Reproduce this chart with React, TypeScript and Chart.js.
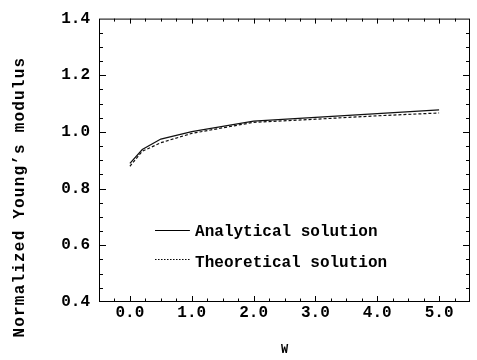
import React, { useEffect, useRef } from 'react';
import { Chart, registerables } from 'chart.js';

Chart.register(...registerables);

// ---- data ----
const W_ANALYTICAL = [0, 0.2, 0.5, 1, 2, 5];
const ANALYTICAL = [0.889, 0.938, 0.975, 1.001, 1.038, 1.078];
const W_THEORETICAL = [0, 0.2, 0.5, 1, 2, 3, 4, 5];
const THEORETICAL = [0.879, 0.932, 0.962, 0.995, 1.034, 1.045, 1.057, 1.067];

const X_TICKS = [0, 1, 2, 3, 4, 5];
const Y_TICKS = [0.4, 0.6, 0.8, 1.0, 1.2, 1.4];
const X_MINOR_STEP = 0.25;
const Y_MINOR_STEP = 0.05;
const X_RANGE = [-0.5, 5.5];
const Y_RANGE = [0.4, 1.4];

const SERIES_LABELS = ['Analytical solution', 'Theoretical solution'];
const X_TITLE = 'W';
const Y_TITLE = 'Normalized Young’s modulus';

const FONT = "'Liberation Mono', 'DejaVu Sans Mono', monospace";

const decorPlugin = {
  id: 'decor',
  afterDraw(chart: any) {
    const ctx = chart.ctx as CanvasRenderingContext2D;
    const { left, right, top, bottom } = chart.chartArea;
    const xs = chart.scales.x;
    const ys = chart.scales.y;
    ctx.save();
    ctx.strokeStyle = '#000';
    ctx.lineWidth = 1;
    // frame
    ctx.strokeRect(left + 0.5, top + 0.5, right - left - 1, bottom - top - 1);
    // x ticks (bottom and top, inward)
    const isMajor = (v: number, arr: number[]) => arr.some((t) => Math.abs(t - v) < 1e-6);
    ctx.beginPath();
    for (let v = X_RANGE[0] + X_MINOR_STEP; v < X_RANGE[1] - 1e-6; v += X_MINOR_STEP) {
      const px = Math.round(xs.getPixelForValue(v)) + 0.5;
      const maj = isMajor(v, X_TICKS);
      ctx.moveTo(px, bottom);
      ctx.lineTo(px, bottom - (maj ? 6 : 3.5));
      ctx.moveTo(px, top);
      ctx.lineTo(px, top + (maj ? 5 : 3));
    }
    for (let v = Y_RANGE[0] + Y_MINOR_STEP; v < Y_RANGE[1] - 1e-6; v += Y_MINOR_STEP) {
      const py = Math.round(ys.getPixelForValue(v)) + 0.5;
      const maj = isMajor(v, Y_TICKS);
      ctx.moveTo(left, py);
      ctx.lineTo(left + (maj ? 7 : 4), py);
      ctx.moveTo(right, py);
      ctx.lineTo(right - (maj ? 7 : 4), py);
    }
    ctx.stroke();

    // legend
    const w = right - left;
    const h = bottom - top;
    const lx0 = left + 0.151 * w;
    const lx1 = left + 0.245 * w;
    const tx = left + 0.259 * w;
    const rows = [
      { ly: top + 0.745 * h, ty: top + 0.768 * h, dash: [] as number[] },
      { ly: top + 0.847 * h, ty: top + 0.875 * h, dash: [1.5, 1.5] },
    ];
    ctx.font = `bold 16px ${FONT}`;
    ctx.fillStyle = '#000';
    ctx.textAlign = 'left';
    ctx.textBaseline = 'alphabetic';
    rows.forEach((r, i) => {
      ctx.beginPath();
      ctx.setLineDash(r.dash);
      ctx.lineWidth = 1.2;
      ctx.moveTo(lx0, Math.round(r.ly) + 0.5);
      ctx.lineTo(lx1, Math.round(r.ly) + 0.5);
      ctx.stroke();
      ctx.setLineDash([]);
      ctx.fillText(SERIES_LABELS[i], tx, r.ty);
    });

    // x title
    ctx.font = `bold 12px ${FONT}`;
    ctx.textAlign = 'center';
    ctx.fillText(X_TITLE, (left + right) / 2, chart.height - 7.5);

    // y title
    ctx.save();
    ctx.translate(24, top + 0.63 * h);
    ctx.rotate(-Math.PI / 2);
    ctx.font = `bold 16px ${FONT}`;
    (ctx as any).letterSpacing = '1.2px';
    ctx.textAlign = 'center';
    ctx.fillText(Y_TITLE, 0, 0);
    ctx.restore();

    ctx.restore();
  },
};

export default function App() {
  const ref = useRef<HTMLCanvasElement | null>(null);
  useEffect(() => {
    if (!ref.current) return;
    const chart = new Chart(ref.current, {
      type: 'line',
      data: {
        datasets: [
          {
            label: SERIES_LABELS[0],
            data: W_ANALYTICAL.map((x, i) => ({ x, y: ANALYTICAL[i] })),
            borderColor: '#111',
            borderWidth: 1.3,
            pointRadius: 0,
            tension: 0,
            fill: false,
          },
          {
            label: SERIES_LABELS[1],
            data: W_THEORETICAL.map((x, i) => ({ x, y: THEORETICAL[i] })),
            borderColor: '#111',
            borderWidth: 1.2,
            borderDash: [3, 2],
            pointRadius: 0,
            tension: 0,
            fill: false,
          },
        ],
      },
      options: {
        animation: false,
        responsive: false,
        devicePixelRatio: 1,
        layout: { padding: { top: 13, right: 7, left: 0, bottom: 0 } },
        plugins: { legend: { display: false }, tooltip: { enabled: false } },
        scales: {
          x: {
            type: 'linear',
            min: X_RANGE[0],
            max: X_RANGE[1],
            grid: { display: false, drawTicks: false },
            border: { display: false },
            afterBuildTicks: (s: any) => {
              s.ticks = X_TICKS.map((v) => ({ value: v }));
            },
            afterFit: (s: any) => {
              s.height = 58;
            },
            ticks: {
              padding: 1,
              color: '#000',
              maxRotation: 0,
              autoSkip: false,
              font: { family: FONT, size: 16, weight: 'bold' },
              callback: (v: any) => Number(v).toFixed(1),
            },
          },
          y: {
            type: 'linear',
            min: Y_RANGE[0],
            max: Y_RANGE[1],
            grid: { display: false, drawTicks: false },
            border: { display: false },
            afterBuildTicks: (s: any) => {
              s.ticks = Y_TICKS.map((v) => ({ value: v }));
            },
            afterFit: (s: any) => {
              s.width = 99;
            },
            ticks: {
              padding: 9,
              color: '#000',
              autoSkip: false,
              font: { family: FONT, size: 16, weight: 'bold' },
              callback: (v: any) => Number(v).toFixed(1),
            },
          },
        },
      },
      plugins: [decorPlugin],
    } as any);
    return () => chart.destroy();
  }, []);
  return (
    <div style={{ position: 'fixed', left: 0, top: 0, width: 477, height: 360, background: '#fff' }}>
      <canvas ref={ref} width={477} height={360} />
    </div>
  );
}
